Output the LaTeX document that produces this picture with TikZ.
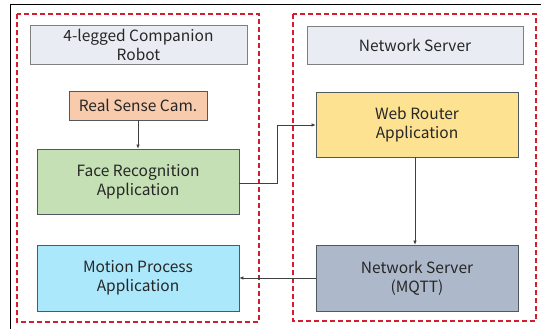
\documentclass[tikz,border=0pt]{standalone}
\usepackage{fontspec}
\setmainfont{Noto Sans CJK KR}
\usetikzlibrary{arrows.meta}
\definecolor{titlefill}{HTML}{E9EDF3}
\definecolor{titledraw}{HTML}{7F7F7F}
\definecolor{camfill}{HTML}{F8CBAD}
\definecolor{facefill}{HTML}{C5E0B4}
\definecolor{motionfill}{HTML}{ABE8FB}
\definecolor{webfill}{HTML}{FDE291}
\definecolor{nsfill}{HTML}{ADB9CA}
\definecolor{boxdraw}{HTML}{505860}
\definecolor{dashred}{HTML}{D0202F}
\tikzset{
  every node/.style={font=\fontsize{15.5}{19}\selectfont, text=black!85, align=center, inner sep=0pt},
  titlebox/.style={draw=titledraw, fill=titlefill, line width=0.8pt},
  appbox/.style={draw=boxdraw, line width=0.8pt},
  grp/.style={draw=dashred, dashed, dash pattern=on 5pt off 3pt, line width=1.1pt},
  conn/.style={draw=black!75, line width=0.6pt, -{Latex[length=4pt,width=3.5pt]}}
}
\begin{document}
\begin{tikzpicture}[x=1pt,y=-1pt]
\useasboundingbox (0,0) rectangle (541,329);
\fill[white] (0,0) rectangle (541,329);
% outer frame
\draw[black, line width=1pt] (10,335) -- (10,5) -- (545,5);
% groups
\draw[grp] (17,14) rectangle (259,322);
\draw[grp] (293,14) rectangle (536,321);
% title boxes
\node[titlebox, minimum width=217pt, minimum height=39pt] (t1) at (138.5,44.5) {4-legged Companion\\Robot};
\node[titlebox, minimum width=216pt, minimum height=38pt] (t2) at (415,45) {Network Server};
% app boxes
\node[appbox, fill=camfill, minimum width=138pt, minimum height=29pt] (cam) at (138,105.5) {Real Sense Cam.};
\node[appbox, fill=facefill, minimum width=202pt, minimum height=65pt] (face) at (138,181.5) {Face Recognition\\Application};
\node[appbox, fill=motionfill, minimum width=202pt, minimum height=66pt] (motion) at (138,278) {Motion Process\\Application};
\node[appbox, fill=webfill, minimum width=202pt, minimum height=65pt] (web) at (417,124.5) {Web Router\\Application};
\node[appbox, fill=nsfill, minimum width=202pt, minimum height=66pt] (ns) at (417,278) {Network Server\\(MQTT)};
\coordinate (bend1) at (277,183);
\coordinate (bend2) at (277,125);
% connectors
\draw[conn] (cam.south) -- (face.north);
\draw[conn] (face.east |- bend1) -- (bend1) -- (bend2) -- (web.west |- bend2);
\draw[conn] (web.south -| 415,0) -- (ns.north -| 415,0);
\draw[conn] (ns.west) -- (motion.east);
\end{tikzpicture}
\end{document}
